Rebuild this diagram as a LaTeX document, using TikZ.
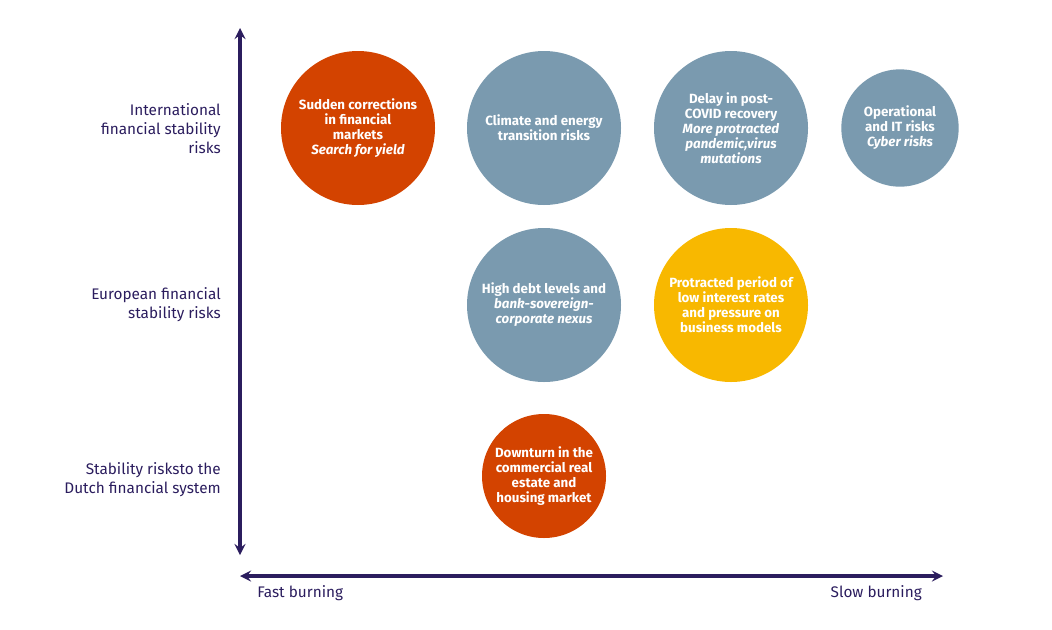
\documentclass[tikz,border=0pt]{standalone}
\usepackage{fontspec}
\setmainfont{Fira Sans}
\usetikzlibrary{positioning}
\definecolor{riskorange}{HTML}{D34300}
\definecolor{riskblue}{HTML}{7A9AAF}
\definecolor{riskyellow}{HTML}{F8B800}
\definecolor{axisnavy}{HTML}{2B1D5E}
\begin{document}
\begin{tikzpicture}[x=0.75pt,y=-0.75pt,
    risk/.style={circle,inner sep=0pt,minimum size=115.5pt,text=white,align=center,
      font=\bfseries\fontsize{10}{11.3}\selectfont},
    bigrisk/.style={risk},
    smallrisk/.style={risk,minimum size=88pt},
    level/.style={anchor=east,align=right,inner sep=0pt,text=axisnavy,font=\fontsize{11.5}{14.3}\selectfont},
    speed/.style={inner sep=0pt,text=axisnavy,font=\fontsize{11.5}{13}\selectfont},
    axis/.style={line width=2.6pt,axisnavy,<->,>=stealth}]
  \useasboundingbox (0,0) rectangle (1052,629);
  % axes
  \coordinate (ytop) at (240,28);
  \coordinate (ybot) at (240,555);
  \coordinate (xleft) at (240,576);
  \coordinate (xright) at (943,576);
  \draw[axis] (ybot) -- (ytop);
  \draw[axis] (xleft) -- (xright);
  % levels
  \node[level] (intl) at (221,129) {International\\financial stability\\risks};
  \node[level] (euro) at (221,305) {European financial\\stability risks};
  \node[level] (dutch) at (221,480) {Stability risksto the\\Dutch financial system};
  \node[speed,anchor=west] (fast) at (257,593) {Fast burning};
  \node[speed,anchor=east] (slow) at (922,593) {Slow burning};
  % risks
  \node[bigrisk,fill=riskorange] (markets) at (358,128) {Sudden corrections\\in financial\\markets\\\textit{Search for yield}};
  \node[bigrisk,fill=riskblue] (climate) at (544,128) {Climate and energy\\transition risks};
  \node[bigrisk,fill=riskblue] (covid) at (731,128) {Delay in post-\\COVID recovery\\\textit{More protracted}\\\textit{pandemic,virus}\\\textit{mutations}};
  \node[smallrisk,fill=riskblue] (cyber) at (900,128) {Operational\\and IT risks\\\textit{Cyber risks}};
  \node[bigrisk,fill=riskblue] (debt) at (544,305) {High debt levels and\\\textit{bank-sovereign-}\\\textit{corporate nexus}};
  \node[bigrisk,fill=riskyellow] (rates) at (731,305) {Protracted period of\\low interest rates\\and pressure on\\business models};
  \node[smallrisk,fill=riskorange,minimum size=93pt] (housing) at (544,476) {Downturn in the\\commercial real\\estate and\\housing market};
\end{tikzpicture}
\end{document}
